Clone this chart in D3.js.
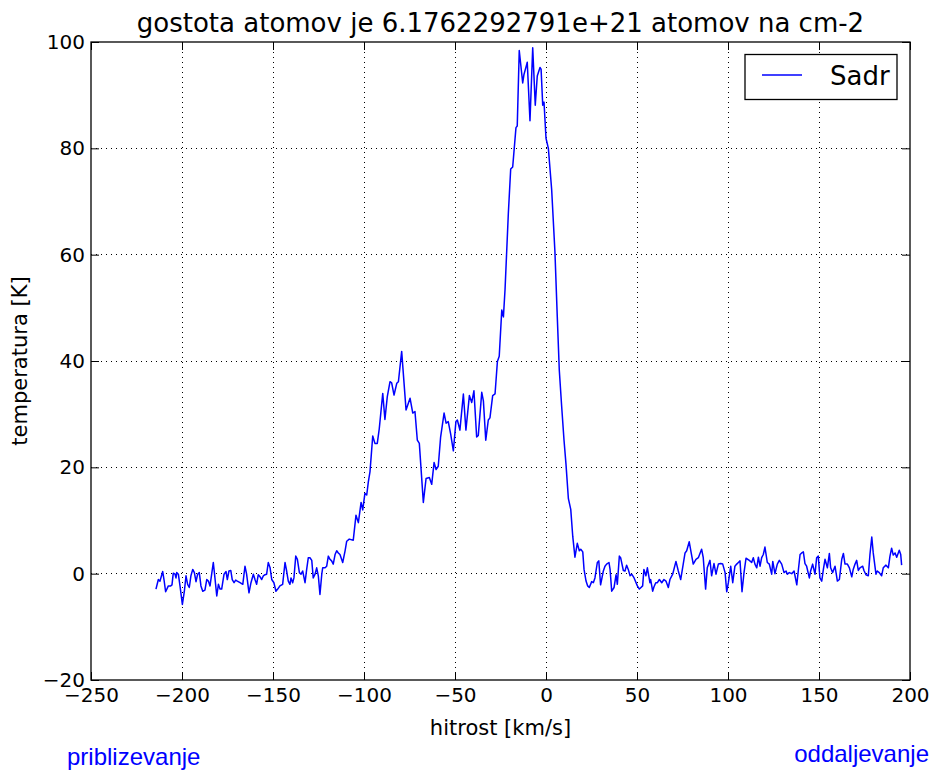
<!DOCTYPE html>
<html><head><meta charset="utf-8">
<script src="https://cdn.jsdelivr.net/npm/d3@7"></script>
<style>body{margin:0;background:#fff}svg{display:block}</style>
</head><body>
<svg id="c" width="936" height="771"></svg>
<script>
const title = "gostota atomov je 6.1762292791e+21 atomov na cm-2";
const xLabel = "hitrost [km/s]";
const yLabel = "temperatura [K]";
const seriesName = "Sadr";
const xTicks = [-250,-200,-150,-100,-50,0,50,100,150,200];
const yTicks = [-20,0,20,40,60,80,100];
const velocity = [
-214.3,-213,-212.1,-210.6,-209.9,-209,-207.5,-206.2,-205.5,-204.8,-203.8,-203.3,-202.9,-202,-201.1,-199.8,-198.7,-197.8,-196.9,-196,-195.1,-194.1,-193.2,-192.3,-191.4,-190.5,-189.6,-188.6,-187.4,-186.4,-185.5,-184.6,-183.7,-182.8,-181.9,-180.9,-180,-179.1,-178.2,-176.9,-175.8,-175.1,-174.2,-173.2,-172.4,-171.4,-170.5,-169.6,-168.1,-166.6,-165.4,-164.5,-163.2,-162.1,-160.8,-159.9,-159,-158.1,-157.1,-156.2,-155.3,-154.4,-153.5,-152.6,-151.6,-150.7,-149.5,-148.4,-147.4,-146.2,-144.7,-143.4,-142.5,-141.6,-140.7,-140.1,-139.2,-138.5,-137.5,-136.6,-135.5,-134.6,-133.7,-132.4,-131.5,-130.6,-129.7,-128.7,-127.9,-126.9,-126,-125.1,-124.2,-123.2,-122.7,-121.4,-120.5,-119.6,-118.7,-117.8,-116.9,-115.9,-115,-114.1,-113.2,-111.7,-110.4,-109.5,-108.1,
-105.9,-104.4,-103.1,-101.6,-100.7,-99.5,-98.5,-97.6,-96.7,-95.2,-94,-92.7,-91.6,-89.7,-88.5,-87.2,-85.7,-84.8,-83.5,-82,-81.1,-79.3,-76.9,-74.7,-73.2,-72,-70.7,-69.6,-67.4,-65.9,-64.1,-62.8,-61.5,-60.4,-59.2,-57.9,-56,-54.9,-53.7,-52.4,-50.9,-49.5,-48.7,-47.3,-45.4,-44,-42.1,-40.8,-39.6,-38.1,-37.2,-35.3,-34.4,-33.1,-31.7,-30.8,-29.3,-28,-26.7,-25.7,-24.3,-23.4,-22.5,-21.6,-20.7,-19.4,-18.3,-16.5,-15.8,-14.7,-12.8,-12.1,-10.6,-10.3,-8.8,-7.3,-5.9,-4.8,-3.3,-2.7,-1.8,-1.1,0,1.3,3.1,4.9,6.2,7.3,8.6,9.9,11,12.3,13.6,14.7,15.9,17.2,18.3,19.1,20.2,20.9,
22,22.9,23.8,25.1,26,26.9,28.2,29,30,31.5,32.4,33.3,34.6,35.2,36.1,37.4,38.5,39.2,40.3,41,42.5,43.4,44.3,45.2,46.2,47.1,48.4,50.2,51.3,52.2,53.1,53.8,54.9,55.7,57.1,57.5,58.6,59.3,60.3,61.2,62.3,63.6,64.8,65.9,67.2,68.1,69.6,71.4,72.7,74,75.4,76.4,77.3,78.7,80.1,80.9,82.4,83.7,85.5,86.4,87.7,88.6,90.1,91,92.3,93.4,94.7,96,97.1,98.4,99.3,100.2,101.5,102.6,103.8,104.8,105.7,106.6,107.7,108.8,109.9,111.7,113,113.9,114.8,115.8,116.7,117.6,118.5,119.4,120.3,121.6,122.7,124,124.6,125.8,127.1,128.2,129.5,130.8,131.9,132.6,133.7,135,136.3,137.8,138.6,139.6,140.5,141.4,142.3,143.2,144.7,145.4,146.5,147.8,148.7,149.6,150.5,151.5,152.4,153.3,153.8,154.6,155.7,156.4,157.5,158.8,160.1,161.2,162.5,163.4,164.3,165.6,166.7,168,168.8,169.8,170.7,171.6,172.5,174,174.7,175.8,177.1,178,179,179.8,181.3,182,183.1,184.4,185.3,186.8,188.1,189,189.9,190.8,191.8,192.7,194.1,194.9,195.4
];
const temperature = [
-2.9,-1.1,-1.4,0.4,-1.1,-3.4,-2.3,-2.3,-2.1,0.1,-0.1,-0.8,0.2,-0.1,-2.3,-5.8,-3.3,-0.4,-2,-2.6,-0.4,0.8,0.2,-1.5,-0.1,0.2,-2.3,-3.3,-3.1,-1.1,-1.4,-2.3,-0.1,2.1,-0.8,-4.2,-2,-2.9,-2.9,-0.1,0.4,-1.1,0.5,0.6,-1.1,-1.7,-1.2,-1.4,-1.7,-2,1.4,-0.1,-3.6,-1.7,-0.1,-1.1,-2,-0.2,-0.6,-1.1,-0.4,-0.2,-0.1,2.1,1.1,-1.1,-1.7,-3.3,-2.9,-2.3,-2,2.1,0.5,-1.4,-2,-0.8,-1.7,-0.8,3.3,2.7,0.2,-0.1,0.5,-1.7,0.8,3,3,2.5,-0.8,-0.1,1.1,-0.4,-3.9,-0.1,1.1,1.1,1.4,3.3,2.7,2.4,1.8,3.6,4.3,3.9,3.6,2.1,4.3,6.1,6.5,
6.3,11,9.6,13.4,12,15.1,14.8,17.3,19.2,25.9,24.5,24.5,27.3,33.9,29,33.3,36.1,35.9,33.6,35.8,36.1,41.8,30.8,33,30.2,30.5,25.1,24.5,13.4,17.9,18.1,16.8,20.9,19.6,20.2,25.7,30.2,28.3,28.6,26.3,23.1,28.6,28.9,27,33.8,27,33.5,32.2,34.4,25.7,26,34.1,32.5,25.1,28.9,29.3,33.5,33.8,39.9,40.9,49.6,48.3,53.5,60.6,67.7,76.1,76.5,83.9,84.2,98.4,92.3,93.9,95.8,96.2,85.2,98.9,88.1,93.6,95.2,94.9,88.1,88.7,81.9,80,72.3,60.6,48.3,38.3,31.5,25.1,20.5,14.1,12.1,7,3.1,5.7,4.3,4.6,4.1,0.8,
-1.4,-2.3,-2.6,-1.5,-1.7,-0.8,2.1,2.4,-2.1,0.5,1.4,1.8,2.1,0.8,-3.3,-2.6,-0.2,-2,3.3,3,0.6,0.5,1.6,0.8,-0.4,-0.1,-0.8,-2.3,-2.9,-2.6,-2.3,0.8,-0.4,1.1,-1.7,-1.1,-3.3,-2.5,-1.7,-1.7,-1.1,-1.7,-1.1,-1.4,-2.6,-1.1,-0.1,2.3,0.5,-1.1,1.8,3.9,4.3,6,3.3,1.8,2.7,3,4.6,3,-2.9,1.1,2.5,-0.4,1.9,-0.1,1.8,1.9,1.8,0.2,-3.4,-1.7,1.4,-1.7,1.4,1.8,2.1,2.4,-3.4,0.2,2.9,2.5,2.1,3,1.8,1.1,3.1,1.4,3,3.6,5,2.1,1.8,-0.1,2.3,0,1.8,2.5,1.8,0.2,0.5,-0.1,0.2,0,0.5,-2.1,0.5,3.6,3.9,4.1,1.9,1.4,-0.8,0.5,1.8,-0.1,3,3.3,-0.8,-1.4,0.8,2.7,2.1,1.1,3.8,1.1,0.2,1.4,-1.4,-1.1,2.7,3.8,1.8,1.8,1.1,-0.6,0.8,1.8,2.5,0.6,1.1,1.4,0.6,-0.2,-0.4,3.6,6.9,3.9,-0.1,0.5,0.2,-0.4,1.1,1.6,1.1,3.3,4.8,3.5,3.9,3.1,4.4,3.6,1.6
];

const svg = d3.select("#c");
const L=91,R=910,T=42,B=680;
const x = d3.scaleLinear().domain([-250,200]).range([L,R]);
const y = d3.scaleLinear().domain([-20,100]).range([B,T]);
const font = "DejaVu Sans";

// grid
const g = svg.append("g");
g.selectAll(".gx").data(xTicks.slice(1,-1)).enter().append("line")
 .attr("x1",d=>x(d)).attr("x2",d=>x(d)).attr("y1",T).attr("y2",B)
 .attr("stroke","#000").attr("stroke-width",1).attr("stroke-dasharray","1,4").attr("shape-rendering","crispEdges");
g.selectAll(".gy").data(yTicks.slice(1,-1)).enter().append("line")
 .attr("y1",d=>y(d)).attr("y2",d=>y(d)).attr("x1",L).attr("x2",R)
 .attr("stroke","#000").attr("stroke-width",1).attr("stroke-dasharray","1,4").attr("shape-rendering","crispEdges");

// line
const pts = velocity.map((v,i)=>[v,temperature[i]]);
svg.append("path").datum(pts)
 .attr("d", d3.line().x(d=>x(d[0])).y(d=>y(d[1])))
 .attr("fill","none").attr("stroke","#0000ff").attr("stroke-width",1.5).attr("stroke-linejoin","round");

// axes (ticks inside)
const ax = d3.axisBottom(x).tickValues(xTicks).tickSizeInner(-8).tickSizeOuter(0).tickPadding(8).tickFormat(d=>d<0?"\u2212"+Math.abs(d):d);
svg.append("g").attr("transform",`translate(0,${B})`).call(ax);
const axT = d3.axisTop(x).tickValues(xTicks).tickSizeInner(-8).tickSizeOuter(0).tickFormat("");
svg.append("g").attr("transform",`translate(0,${T})`).call(axT);
const ay = d3.axisLeft(y).tickValues(yTicks).tickSizeInner(-8).tickSizeOuter(0).tickPadding(6).tickFormat(d=>d<0?"\u2212"+Math.abs(d):d);
svg.append("g").attr("transform",`translate(${L},0)`).call(ay);
const ayR = d3.axisRight(y).tickValues(yTicks).tickSizeInner(-8).tickSizeOuter(0).tickFormat("");
svg.append("g").attr("transform",`translate(${R},0)`).call(ayR);
svg.selectAll(".domain").remove();
svg.selectAll(".tick line").attr("stroke","#000").attr("stroke-width",1);
svg.selectAll(".tick text").attr("font-family",font).attr("font-size",20).attr("fill","#000");

// frame
svg.append("rect").attr("x",L).attr("y",T).attr("width",R-L).attr("height",B-T)
 .attr("fill","none").attr("stroke","#000").attr("stroke-width",1.3);

// title & labels
svg.append("text").attr("x",(L+R)/2).attr("y",32).attr("text-anchor","middle")
 .attr("font-family",font).attr("font-size",26).text(title);
svg.append("text").attr("x",(L+R)/2).attr("y",735).attr("text-anchor","middle")
 .attr("font-family",font).attr("font-size",21).text(xLabel);
svg.append("text").attr("transform",`translate(27,${(T+B)/2}) rotate(-90)`).attr("text-anchor","middle")
 .attr("font-family",font).attr("font-size",21).text(yLabel);

// legend
svg.append("rect").attr("x",745).attr("y",54.5).attr("width",152).attr("height",45)
 .attr("fill","#fff").attr("stroke","#000").attr("stroke-width",1.3);
svg.append("line").attr("x1",762).attr("x2",802).attr("y1",75).attr("y2",75)
 .attr("stroke","#0000ff").attr("stroke-width",1.5);
svg.append("text").attr("x",830).attr("y",85).attr("font-family",font).attr("font-size",26).text(seriesName);

// side notes
svg.append("text").attr("x",67).attr("y",765).attr("font-family","Liberation Sans").attr("font-size",24).attr("fill","#0000ff").text("priblizevanje");
svg.append("text").attr("x",929).attr("y",762).attr("text-anchor","end").attr("font-family","Liberation Sans").attr("font-size",24).attr("fill","#0000ff").text("oddaljevanje");
</script>
</body></html>
